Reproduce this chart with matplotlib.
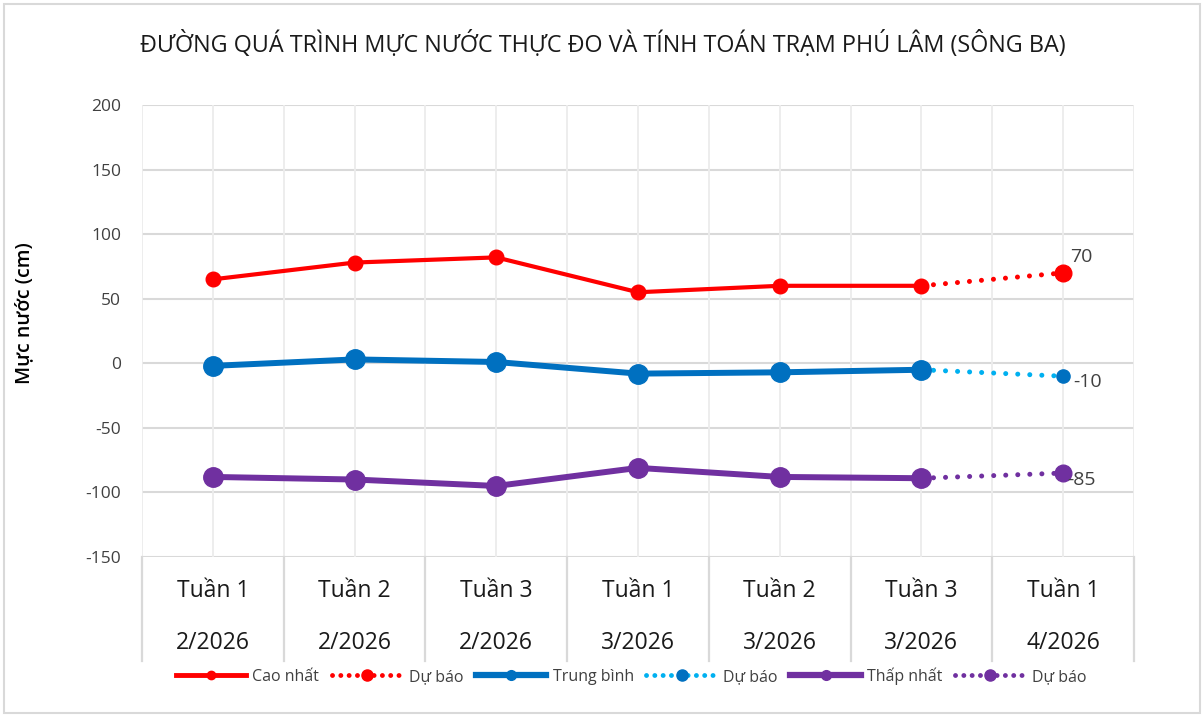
import matplotlib
matplotlib.use('Agg')
import matplotlib.pyplot as plt
import matplotlib.patches as mpatches
from matplotlib.lines import Line2D
from matplotlib.transforms import blended_transform_factory

plt.rcParams['font.family'] = ['Open Sans', 'DejaVu Sans']
plt.rcParams['axes.unicode_minus'] = False

# ── dữ liệu ──────────────────────────────────────────────────────────────────
weeks  = ['Tuần 1', 'Tuần 2', 'Tuần 3', 'Tuần 1', 'Tuần 2', 'Tuần 3', 'Tuần 1']
months = ['2/2026', '2/2026', '2/2026', '3/2026', '3/2026', '3/2026', '4/2026']

cao_nhat   = [65, 78, 82, 55, 60, 60]
trung_binh = [-2, 3, 1, -8, -7, -5]
thap_nhat  = [-88, -90, -95, -81, -88, -89]

du_bao_cao = 70
du_bao_tb  = -10
du_bao_thap = -85

RED    = '#FF0000'
BLUE   = '#0070C0'
LBLUE  = '#00B0F0'
PURPLE = '#7030A0'

fig = plt.figure(figsize=(12.04, 7.15), dpi=100, facecolor='white')
ax = fig.add_axes([142 / 1204, 1 - 557 / 715, (1134 - 142) / 1204, (557 - 105) / 715])

n = len(weeks)
x = list(range(n))
xm = x[:len(cao_nhat)]
xf = [xm[-1], x[-1]]

# lưới
for v in range(-150, 201, 50):
    ax.axhline(v, color='#d9d9d9', lw=1.5, zorder=1)
for i in range(n + 1):
    ax.axvline(i - 0.5, color='#ececec', lw=1.3, zorder=1)
for i in x:
    ax.axvline(i, color='#ececec', lw=1.3, zorder=1)

# đường thực đo
ax.plot(xm, cao_nhat, color=RED, lw=3.0, marker='o', ms=10.5, zorder=4)
ax.plot(xm, trung_binh, color=BLUE, lw=4.3, marker='o', ms=14, zorder=4)
ax.plot(xm, thap_nhat, color=PURPLE, lw=4.3, marker='o', ms=14, zorder=4)

# đường dự báo
dot = (0, (0.01, 2.4))
ax.plot(xf, [cao_nhat[-1], du_bao_cao], color=RED, lw=3.6, ls=dot,
        dash_capstyle='round', zorder=3)
ax.plot(xf[1], du_bao_cao, 'o', color=RED, ms=12, zorder=5)
ax.plot(xf, [trung_binh[-1], du_bao_tb], color=LBLUE, lw=3.6, ls=dot,
        dash_capstyle='round', zorder=3)
ax.plot(xf[1], du_bao_tb, 'o', color=BLUE, ms=9.5, zorder=5)
ax.plot(xf, [thap_nhat[-1], du_bao_thap], color=PURPLE, lw=3.6, ls=dot,
        dash_capstyle='round', zorder=3)
ax.plot(xf[1], du_bao_thap, 'o', color=PURPLE, ms=12, zorder=5)

# nhãn giá trị
ax.annotate(f'{du_bao_cao}', (xf[1], du_bao_cao), xytext=(5, 5), textcoords='offset points',
            fontsize=14, color='#404040', ha='left', va='bottom', zorder=6)
ax.annotate(f'{du_bao_tb}', (xf[1], du_bao_tb), xytext=(7, -4), textcoords='offset points',
            fontsize=14, color='#404040', ha='left', va='center', zorder=6)
ax.annotate(f'{du_bao_thap}', (xf[1], du_bao_thap), xytext=(3, -5), textcoords='offset points',
            fontsize=14, color='#404040', ha='left', va='center', zorder=6)

ax.set_xlim(-0.5, n - 0.5)
ax.set_ylim(-150, 200)
ax.set_yticks(range(-150, 201, 50))
ax.tick_params(axis='y', length=0, pad=15, labelsize=12.5, labelcolor='#404040')
ax.set_xticks([])
for s in ax.spines.values():
    s.set_visible(False)

ax.set_ylabel('Mực nước (cm)', fontsize=14, color='black', fontweight='semibold')
ax.yaxis.set_label_coords(-0.109, 0.54)

# nhãn trục x hai tầng
tr = blended_transform_factory(ax.transData, fig.transFigure)
for i in x:
    ax.text(i, 1 - 591 / 715, weeks[i], transform=tr, ha='center', va='center',
            fontsize=16.5, color='#1a1a1a')
    ax.text(i, 1 - 643 / 715, months[i], transform=tr, ha='center', va='center',
            fontsize=16.5, color='#1a1a1a')
for i in range(n + 1):
    ax.plot([i - 0.5, i - 0.5], [1 - 557 / 715, 1 - 661 / 715], transform=tr,
            color='#d9d9d9', lw=1.6, clip_on=False, zorder=1)

fig.text(603 / 1204, 1 - 45 / 715,
         'ĐƯỜNG QUÁ TRÌNH MỰC NƯỚC THỰC ĐO VÀ TÍNH TOÁN TRẠM PHÚ LÂM (SÔNG BA)',
         ha='center', va='center', fontsize=16.8, color='#1a1a1a')

# chú giải
ldot = (0, (0.01, 1.7))
handles = [
    Line2D([], [], color=RED, lw=3.5, marker='o', ms=6),
    Line2D([], [], color=RED, lw=3.5, ls=ldot, dash_capstyle='round', marker='o', ms=8),
    Line2D([], [], color=BLUE, lw=4.5, marker='o', ms=7),
    Line2D([], [], color=LBLUE, lw=3.5, ls=ldot, dash_capstyle='round', marker='o',
           ms=8, mfc=BLUE, mec=BLUE),
    Line2D([], [], color=PURPLE, lw=4.5, marker='o', ms=7),
    Line2D([], [], color=PURPLE, lw=3.5, ls=ldot, dash_capstyle='round', marker='o', ms=8),
]
labels = ['Cao nhất', 'Dự báo', 'Trung bình', 'Dự báo', 'Thấp nhất', 'Dự báo']
fig.legend(handles, labels, loc='center', bbox_to_anchor=(631 / 1204, 1 - 676 / 715),
           ncol=6, frameon=False, fontsize=11.5, handlelength=4.4, handletextpad=0.4,
           columnspacing=0.8, labelcolor='#404040')

# viền khung
fig.patches.append(mpatches.Rectangle((4 / 1204, 2 / 715), 1196 / 1204, 709 / 715,
                                      transform=fig.transFigure, fill=False,
                                      ec='#d9d9d9', lw=1.5))

fig.savefig('out.png', dpi=100, facecolor='white')
